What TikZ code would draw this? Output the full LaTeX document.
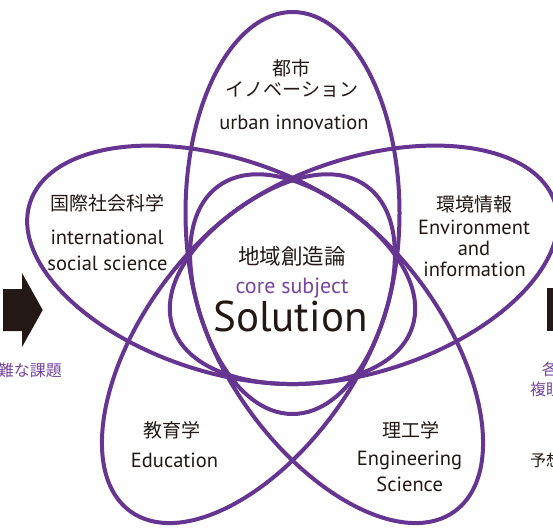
\documentclass[tikz,border=0pt]{standalone}
\usepackage{fontspec}
\setmainfont{PT Sans}
\newfontfamily\jp{Noto Sans CJK JP}
\definecolor{petalpurple}{RGB}{102,52,145}
\definecolor{textpurple}{RGB}{118,70,160}
\definecolor{ink}{RGB}{35,24,21}
\begin{document}
\begin{tikzpicture}[x=1pt,y=1pt,
    petal/.style={draw=petalpurple,line width=4pt},
    jlabel/.style={inner sep=0pt,text=ink,font=\jp\fontsize{19}{19}\selectfont},
    elabel/.style={inner sep=0pt,anchor=base,text=ink,font=\fontsize{20.5}{20.5}\selectfont},
    side/.style={inner sep=0pt,font=\jp\fontsize{16}{16}\selectfont}]
  \useasboundingbox (0,0) rectangle (553,-527);
  \clip (0,0) rectangle (553,-527);

  % arrows at the edges
  \fill[ink] (3,-289) -- (22,-289) -- (22,-273) -- (42.7,-310) -- (22,-347) -- (22,-331) -- (3,-331) -- cycle;
  \fill[ink] (547,-288) rectangle (560,-331);

  % five petals
  \begin{scope}[shift={(292.5,-288)}]
    \foreach \ang in {18,90,162,234,306}
      \draw[petal,rotate=\ang] (75,0) ellipse [x radius=201,y radius=107];
  \end{scope}

  \node[jlabel] (toshi) at (291,-68) {都市};
  \node[jlabel] (toshiKana) at (292,-90) {イノベーション};
  \node[elabel] (urban) at (294,-129) {urban innovation};

  \node[jlabel] (kokusai) at (107,-203) {国際社会科学};
  \node[elabel] (intl) at (107,-244) {international};
  \node[elabel] (social) at (107.5,-270) {social science};

  \node[jlabel] (kankyo) at (474,-204) {環境情報};
  \node[elabel] (envir) at (474,-234.5) {Environment};
  \node[elabel] (envAnd) at (474,-255.7) {and};
  \node[elabel] (info) at (474.5,-276) {information};

  \node[jlabel,font=\jp\fontsize{21.5}{21.5}\selectfont] (chiiki) at (292,-256) {地域創造論};
  \node[elabel,text=textpurple,font=\fontsize{22}{22}\selectfont] (core) at (292,-293.3) {core subject};
  \node[elabel,font=\fontsize{43}{43}\selectfont] (solution) at (290.5,-331.5) {Solution};

  \node[jlabel] (kyoiku) at (172,-430) {教育学};
  \node[elabel] (educ) at (174.5,-467.7) {Education};

  \node[jlabel] (riko) at (411,-430) {理工学};
  \node[elabel] (engin) at (409.5,-465.7) {Engineering};
  \node[elabel] (science) at (409.7,-491) {Science};

  % cut-off texts at the edges
  \node[side,text=textpurple,anchor=east] (kadai) at (62,-370) {難な課題};
  \node[side,text=textpurple,anchor=west] (kaku) at (541.7,-369) {各};
  \node[side,text=textpurple,anchor=west] (fukugan) at (530,-389) {複眼};
  \node[side,text=ink,anchor=west] (yoso) at (530,-460) {予想};
\end{tikzpicture}
\end{document}
